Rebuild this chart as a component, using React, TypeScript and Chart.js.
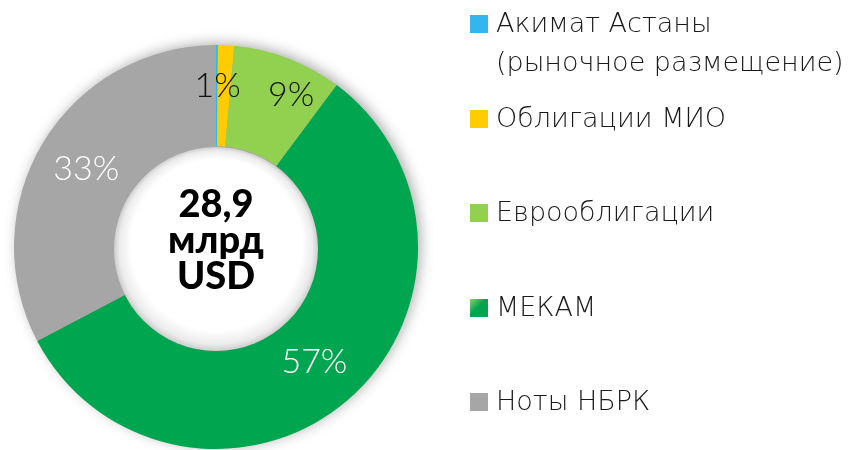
import React, { useEffect, useRef } from "react";
import { Chart, registerables } from "chart.js";

Chart.register(...registerables);

// ---- data ----
const categories: string[][] = [
  ["Акимат Астаны", "(рыночное размещение)"],
  ["Облигации МИО"],
  ["Еврооблигации"],
  ["МЕКАМ"],
  ["Ноты НБРК"],
];
const shares: number[] = [0.15, 1.3, 8.75, 57.1, 32.7];
const colors: string[] = ["#33B5F0", "#FFCC00", "#92D050", "#00A54F", "#A6A6A6"];
const labelColors: string[] = ["#111111", "#111111", "#111111", "#FFFFFF", "#FFFFFF"];
// pixel nudges for the small-slice labels (style only)
const labelNudge: [number, number][] = [[0, 0], [-6, -10], [21, -11], [0, 0], [0, 0]];
const centerLines: string[] = ["28,9", "млрд", "USD"];

const App: React.FC = () => {
  const canvasRef = useRef<HTMLCanvasElement | null>(null);

  useEffect(() => {
    if (!canvasRef.current) return;

    const decorPlugin = {
      id: "decor",
      beforeDatasetsDraw(chart: any) {
        const meta = chart.getDatasetMeta(0);
        const a = meta.data[0];
        if (!a) return;
        const ctx = chart.ctx;
        ctx.save();
        ctx.shadowColor = "rgba(0,0,0,0.35)";
        ctx.shadowBlur = 14;
        ctx.shadowOffsetX = 3;
        ctx.shadowOffsetY = -2;
        ctx.beginPath();
        ctx.arc(a.x, a.y, a.outerRadius - 1, 0, Math.PI * 2);
        ctx.fillStyle = "#A6A6A6";
        ctx.fill();
        ctx.restore();
      },
      afterDatasetsDraw(chart: any) {
        const meta = chart.getDatasetMeta(0);
        const a = meta.data[0];
        if (!a) return;
        const ctx = chart.ctx;
        const cx = a.x;
        const cy = a.y + 2;
        const r = a.innerRadius + 1;
        ctx.save();
        const g = ctx.createRadialGradient(cx + 4, cy - 28, 0, cx, cy, r);
        g.addColorStop(0, "#FFFFFF");
        g.addColorStop(0.84, "#FFFFFF");
        g.addColorStop(0.95, "#EBEBEB");
        g.addColorStop(1, "#CDCDCD");
        ctx.beginPath();
        ctx.arc(cx, cy, r, 0, Math.PI * 2);
        ctx.fillStyle = g;
        ctx.fill();
        ctx.restore();

        // percent labels
        ctx.save();
        ctx.font = "300 34px Lato";
        ctx.textAlign = "center";
        ctx.textBaseline = "middle";
        meta.data.forEach((arc: any, i: number) => {
          const v = Math.round(shares[i]);
          if (v < 1) return;
          const p = arc.getCenterPoint();
          ctx.fillStyle = labelColors[i];
          ctx.fillText(v + "%", p.x + labelNudge[i][0], p.y + labelNudge[i][1]);
        });
        ctx.restore();
      },
    };

    const chart = new Chart(canvasRef.current, {
      type: "doughnut",
      data: {
        labels: categories.map((c) => c.join(" ")),
        datasets: [
          {
            data: shares,
            backgroundColor: colors,
            borderWidth: 0,
            hoverOffset: 0,
            offset: 0,
          },
        ],
      },
      options: {
        animation: false,
        responsive: false,
        cutout: "50%",
        rotation: 0,
        layout: { padding: { left: 14, right: 441, top: 45, bottom: 1 } },
        plugins: {
          legend: { display: false },
          tooltip: { enabled: false },
        },
      },
      plugins: [decorPlugin],
    } as any);

    return () => chart.destroy();
  }, []);

  return (
    <div
      style={{
        position: "fixed",
        left: 0,
        top: 0,
        width: 859,
        height: 450,
        background: "#FFFFFF",
        overflow: "hidden",
      }}
    >
      <canvas ref={canvasRef} width={859} height={450} style={{ display: "block", width: 859, height: 450 }} />
      <div
        style={{
          position: "absolute",
          left: 116,
          width: 200,
          top: 184,
          textAlign: "center",
          fontFamily: "Lato, 'Open Sans', sans-serif",
          fontWeight: 900,
          fontSize: 38,
          lineHeight: "36px",
          color: "#000000",
        }}
      >
        {centerLines.map((l, i) => (
          <div key={i}>{l}</div>
        ))}
      </div>
      {categories.map((lines, i) => (
        <div
          key={i}
          style={{
            position: "absolute",
            left: 470,
            top: 3 + i * 94.5,
            display: "flex",
            alignItems: "flex-start",
            fontFamily: "'DejaVu Sans', Lato, sans-serif",
            fontWeight: 200,
            fontSize: 27,
            lineHeight: "39px",
            color: "#1A1A1A",
            whiteSpace: "nowrap",
          }}
        >
          <div
            style={{
              width: 18,
              height: 18,
              marginTop: 12,
              marginRight: 8,
              flex: "none",
              background:
                i === 3 ? "linear-gradient(135deg, #8ED46A 0%, #00A54F 45%, #00A54F 100%)" : colors[i],
            }}
          />
          <div>
            {lines.map((l, j) => (
              <div key={j}>{l}</div>
            ))}
          </div>
        </div>
      ))}
    </div>
  );
};

export default App;
